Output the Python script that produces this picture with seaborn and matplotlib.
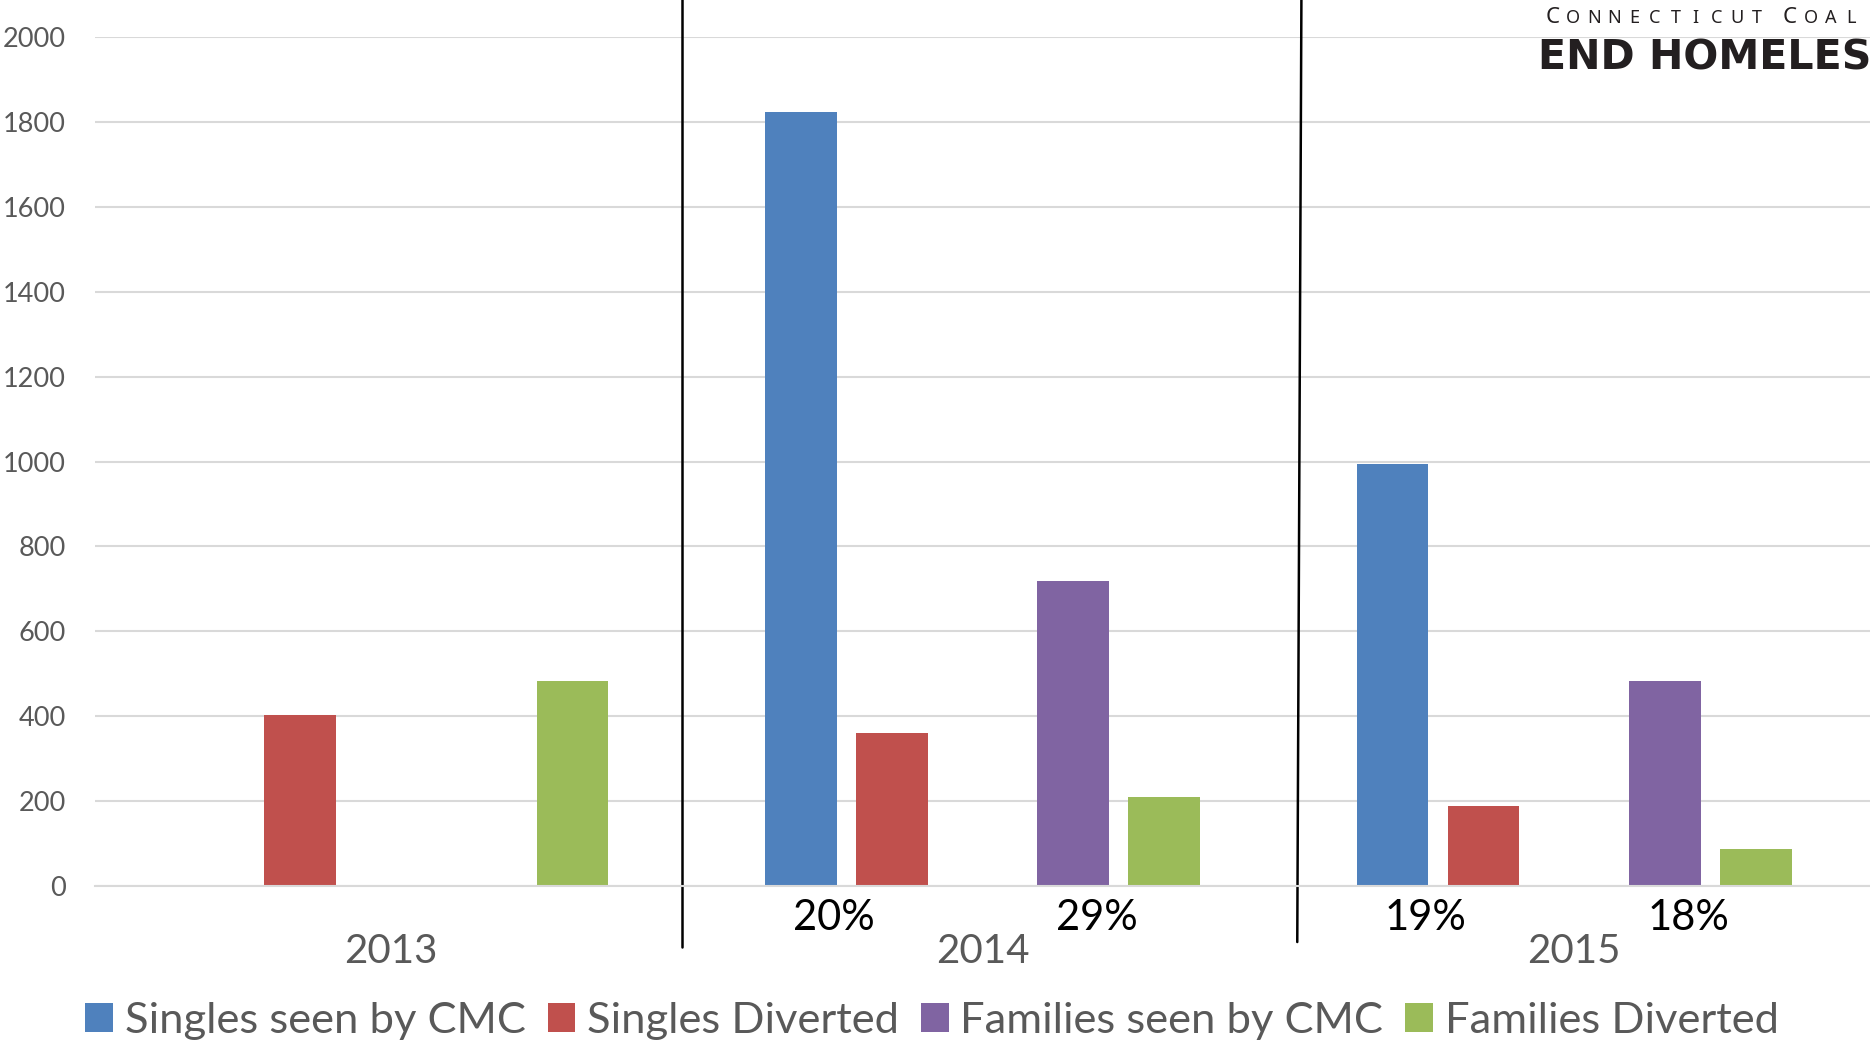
import numpy as np
import pandas as pd
import matplotlib
matplotlib.use("Agg")
import matplotlib.pyplot as plt
from matplotlib.patches import Patch
from matplotlib.lines import Line2D
import matplotlib.transforms as mtransforms
import seaborn as sns

# ---- data -------------------------------------------------------------
years = ["2013", "2014", "2015"]
singles_seen = [0, 1823, 994]
singles_diverted = [403, 360, 188]
families_seen = [0, 719, 483]
families_diverted = [483, 210, 87]

series_names = ["Singles seen by CMC", "Singles Diverted",
                "Families seen by CMC", "Families Diverted"]
series_colors = ["#4F81BD", "#C0504D", "#8064A2", "#9BBB59"]
y_ticks = [0, 200, 400, 600, 800, 1000, 1200, 1400, 1600, 1800, 2000]

# empty slot between the singles pair and the families pair
spacer = "spacer"

rows = []
for i, yr in enumerate(years):
    rows.append((yr, series_names[0], singles_seen[i]))
    rows.append((yr, series_names[1], singles_diverted[i]))
    rows.append((yr, spacer, 0))
    rows.append((yr, series_names[2], families_seen[i]))
    rows.append((yr, series_names[3], families_diverted[i]))
df = pd.DataFrame(rows, columns=["year", "series", "count"])

hue_order = [series_names[0], series_names[1], spacer,
             series_names[2], series_names[3]]
palette = dict(zip(series_names, series_colors))
palette[spacer] = "white"

# ---- style ------------------------------------------------------------
sns.set_theme(style="white")
plt.rcParams["font.family"] = ["Lato", "DejaVu Sans"]
TXT = "#595959"
GRID = "#D9D9D9"

W, H = 1870, 1043
fig = plt.figure(figsize=(W / 100, H / 100), dpi=100)
ax = fig.add_axes([95 / W, 1 - 886 / H, 1775 / W, 849 / H])

sns.barplot(data=df, x="year", y="count", hue="series", hue_order=hue_order,
            order=years, palette=palette, width=0.767, gap=0.21,
            saturation=1, linewidth=0, legend=False, ax=ax)

ax.set_xlim(-0.5, 2.5)
ax.set_ylim(0, 2000)
ax.set_yticks(y_ticks)
ax.set_yticklabels([str(v) for v in y_ticks])
ax.set_axisbelow(True)
ax.yaxis.grid(True, color=GRID, linewidth=1.5)
ax.xaxis.grid(False)
for side in ["top", "right", "left"]:
    ax.spines[side].set_visible(False)
ax.spines["bottom"].set_color(GRID)
ax.spines["bottom"].set_linewidth(1.5)
ax.tick_params(axis="y", length=0, pad=21, labelsize=19.5, labelcolor=TXT)
ax.tick_params(axis="x", length=0, pad=34, labelsize=29, labelcolor=TXT)
ax.set_xlabel("")
ax.set_ylabel("")

# share of people diverted, printed under each pair
trans = mtransforms.blended_transform_factory(ax.transData, ax.transAxes)
for i in range(1, len(years)):
    pct_s = round(100 * singles_diverted[i] / singles_seen[i])
    pct_f = round(100 * families_diverted[i] / families_seen[i])
    ax.text(i - 0.252, -0.038, f"{pct_s}%", transform=trans, ha="center",
            va="center", fontsize=30, color="black")
    ax.text(i + 0.193, -0.038, f"{pct_f}%", transform=trans, ha="center",
            va="center", fontsize=30, color="black")

# year dividers
for (x_top, x_bot, y_bot) in [(0.492, 0.492, -0.072), (1.539, 1.532, -0.066)]:
    ax.add_line(Line2D([x_top, x_bot], [1.045, y_bot], transform=trans,
                       color="black", linewidth=1.8, clip_on=False))

# legend along the bottom
handles = [Patch(facecolor=c, edgecolor="none") for c in series_colors]
fig.legend(handles, series_names, loc="center", bbox_to_anchor=(0.4984, 0.021),
           ncol=4, frameon=False, fontsize=31.3, labelcolor=TXT,
           handlelength=0.64, handleheight=0.64, handletextpad=0.27,
           columnspacing=0.5, borderpad=0, borderaxespad=0)

# organisation masthead, top right
logo_color = "#231F20"
logo_font = ["Noto Sans", "DejaVu Sans"]
base_y = 1 - 23 / H
word1 = "CONNECTICUT"
for k, ch in enumerate(word1):
    size = 16 if k == 0 else 13
    fig.text((1553 + k * 20.4) / W, base_y, ch, ha="center", va="baseline",
             fontsize=size, color=logo_color, family=logo_font)
word2 = "COAL"
for k, ch in enumerate(word2):
    size = 16 if k == 0 else 13
    fig.text((1790 + k * 20.5) / W, base_y, ch, ha="center", va="baseline",
             fontsize=size, color=logo_color, family=logo_font)
fig.text(1538 / W, 1 - 69 / H, "END HOMELES", ha="left", va="baseline",
         fontsize=29.6, fontweight="bold", color=logo_color,
         family=["DejaVu Sans"])

fig.savefig("out.png", dpi=100)
